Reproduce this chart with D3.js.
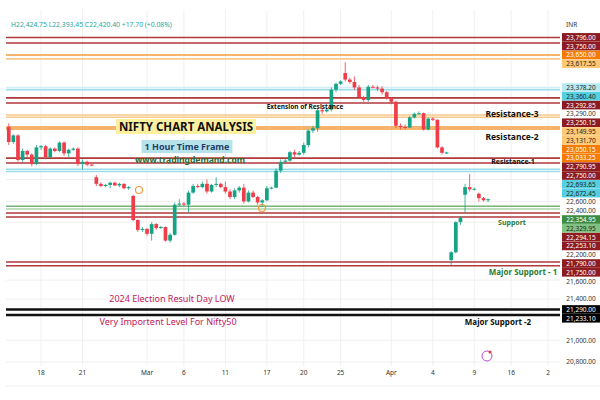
<!DOCTYPE html>
<html>
<head>
<meta charset="utf-8">
<script src="https://cdn.jsdelivr.net/npm/d3@7"></script>
<style>
  body { margin: 0; background: #fff; }
  svg { font-family: "Noto Sans", "DejaVu Sans", sans-serif; }
</style>
</head>
<body>
<div id="chart"></div>
<script>
// candles [open, high, low, close]
var candles = [
  [23050,23080,22900,22925],[22925,22990,22910,22980],[22980,22990,22760,22775],[22775,22870,22760,22850],
  [22850,22860,22790,22820],[22820,22830,22720,22740],[22740,22900,22730,22880],[22880,22900,22860,22890],
  [22890,22900,22780,22800],[22800,22880,22790,22870],[22870,22880,22840,22850],[22850,22930,22840,22920],
  [22920,22930,22810,22830],[22830,22870,22800,22860],[22860,22880,22850,22870],[22870,22880,22720,22740],
  [22740,22780,22690,22760],[22760,22770,22720,22735],[22735,22740,22720,22728],[22620,22640,22540,22560],
  [22560,22575,22530,22540],[22540,22560,22530,22550],[22550,22580,22520,22570],[22570,22580,22540,22545],
  [22545,22570,22530,22560],[22560,22565,22510,22520],[22520,22540,22505,22530],[22450,22460,22210,22222],
  [22222,22230,22100,22120],[22120,22150,22100,22130],[22130,22140,22060,22080],[22080,22200,22010,22180],
  [22180,22190,22120,22140],[22140,22160,22130,22150],[22150,22155,22000,22010],[22010,22090,21990,22070],
  [22070,22390,22060,22370],[22370,22420,22350,22380],[22380,22395,22360,22370],[22370,22500,22300,22480],
  [22480,22560,22470,22540],[22540,22560,22520,22530],[22530,22580,22520,22560],[22560,22600,22470,22490],
  [22490,22560,22480,22550],[22550,22620,22530,22560],[22560,22570,22520,22530],[22530,22580,22470,22490],
  [22490,22510,22420,22440],[22440,22520,22420,22500],[22500,22540,22480,22525],[22525,22560,22380,22400],
  [22400,22500,22390,22480],[22480,22500,22430,22440],[22440,22450,22370,22390],[22390,22420,22350,22410],
  [22410,22540,22400,22520],[22520,22535,22510,22525],[22525,22700,22520,22680],[22680,22780,22660,22760],
  [22760,22790,22740,22770],[22770,22850,22760,22840],[22840,22860,22800,22820],[22820,22850,22810,22835],
  [22835,22920,22820,22900],[22900,23030,22880,23020],[23020,23060,23000,23040],[23040,23200,23010,23190],
  [23190,23210,23160,23180],[23180,23205,23170,23195],[23195,23380,23180,23360],[23360,23420,23340,23410],
  [23410,23440,23400,23430],[23500,23590,23430,23445],[23445,23460,23410,23425],[23425,23470,23360,23380],
  [23380,23400,23290,23300],[23300,23310,23260,23275],[23275,23400,23260,23385],[23385,23400,23370,23380],
  [23380,23395,23350,23370],[23370,23390,23320,23340],[23340,23350,23280,23290],[23290,23300,23240,23260],
  [23260,23270,23040,23060],[23060,23080,23030,23050],[23050,23070,23030,23045],[23045,23140,23040,23130],
  [23130,23170,23120,23160],[23160,23180,23150,23165],[23165,23170,23020,23030],[23030,23130,23020,23120],
  [23120,23130,23100,23110],[23110,23115,22870,22880],[22880,22890,22820,22835],[22835,22845,22825,22838],
  [21810,21900,21760,21890],[21890,22210,21880,22200],[22200,22260,22170,22245],[22460,22560,22290,22530],
  [22530,22650,22490,22510],[22510,22525,22500,22515],[22470,22480,22400,22430],[22430,22440,22400,22410],
  [22410,22425,22393,22420]
];

var tickIdx = [7, 16, 30, 38, 47, 56, 64, 72, 83, 92, 101, 109, 117];
var tickLabels = ["18", "21", "Mar", "6", "11", "17", "20", "25", "Apr", "4", "9", "16", "2"];

// horizontal levels drawn on the chart
var levelPrices = [23796, 23750, 23650, 23617.55, 23378.20, 23360.40, 23292.85, 23250.15, 23149.95, 23131.70,
  23050.15, 23033.25, 22790.95, 22750, 22693.65, 22672.45, 22354.95, 22329.95, 22294.15, 22253.10,
  21790, 21750, 21290, 21233.10];
var levelKinds = ["red", "red", "orange", "lorange", "lblue", "cyan", "red", "red", "lorange", "lorange",
  "orange", "orange", "red", "red", "cyan", "cyan", "green", "lgreen", "red", "red",
  "red", "red", "black", "black"];
var axisTicks = [23290, 22600, 22400, 22200, 21600, 21400, 21000, 20800];

var width = 600, height = 400;
var plot = { left: 6, right: 560, top: 30, bottom: 366 };

var lineColor = { red: "#b0393b", orange: "#f39a3c", lorange: "#f7c98a", lblue: "#cfeef5", cyan: "#9bdcea",
  green: "#7bb27b", lgreen: "#a9d3a9", black: "#111" };
var boxColor = { red: "#8e1b1f", orange: "#f57c00", lorange: "#ffc875", lblue: "#b6e9f1", cyan: "#55d0e3",
  green: "#3d8b40", lgreen: "#7fc383", black: "#000" };
var boxText = { red: "#fff", orange: "#fff", lorange: "#222", lblue: "#222", cyan: "#222",
  green: "#fff", lgreen: "#222", black: "#fff" };

var svg = d3.select("#chart").append("svg").attr("width", width).attr("height", height);

var x = d3.scaleBand().domain(d3.range(120)).range([plot.left, plot.right]).padding(0.2);

var y = d3.scaleLinear()
  .domain([20800, 21233, 21790, 22294, 22750, 23250, 23750, 23900])
  .range([362, 315, 262, 213, 163, 103, 43, 25]);

// grid
svg.append("g").selectAll("line").data(tickIdx).join("line")
  .attr("x1", function(d) { return x(d) + x.bandwidth() / 2; })
  .attr("x2", function(d) { return x(d) + x.bandwidth() / 2; })
  .attr("y1", plot.top - 20).attr("y2", plot.bottom)
  .attr("stroke", "#f0f0f0");
svg.append("g").selectAll("line").data(axisTicks).join("line")
  .attr("x1", plot.left).attr("x2", plot.right)
  .attr("y1", function(d) { return y(d); }).attr("y2", function(d) { return y(d); })
  .attr("stroke", "#f0f0f0");

// levels
var levels = levelPrices.map(function(p, i) { return { price: p, kind: levelKinds[i] }; });
svg.append("g").selectAll("line").data(levels).join("line")
  .attr("x1", plot.left).attr("x2", plot.right)
  .attr("y1", function(d) { return y(d.price); }).attr("y2", function(d) { return y(d.price); })
  .attr("stroke", function(d) { return lineColor[d.kind]; })
  .attr("stroke-width", function(d) { return d.kind === "black" ? 2.5 : 1.6; });

// candles
var cg = svg.append("g");
candles.forEach(function(c, i) {
  var up = c[3] >= c[0];
  var col = up ? "#15a386" : "#ef3e4a";
  var cx = x(i) + x.bandwidth() / 2;
  cg.append("line").attr("x1", cx).attr("x2", cx)
    .attr("y1", y(c[1])).attr("y2", y(c[2])).attr("stroke", col).attr("stroke-width", 0.8);
  cg.append("rect").attr("x", x(i)).attr("width", x.bandwidth())
    .attr("y", y(Math.max(c[0], c[3])))
    .attr("height", Math.max(1, Math.abs(y(c[0]) - y(c[3]))))
    .attr("fill", col);
});

// right price axis labels (stacked to avoid overlap)
var labels = levels.map(function(d) { return { price: d.price, kind: d.kind, box: true }; })
  .concat(axisTicks.map(function(p) { return { price: p, kind: null, box: false }; }))
  .sort(function(a, b) { return b.price - a.price; });
var prev = -100;
labels.forEach(function(d) {
  d.ly = Math.max(y(d.price), prev + 8.8);
  prev = d.ly;
});
svg.append("rect").attr("x", plot.right).attr("y", 0).attr("width", 40).attr("height", height).attr("fill", "#fff");
var ag = svg.append("g");
labels.forEach(function(d) {
  if (d.box) {
    ag.append("rect").attr("x", plot.right + 2).attr("y", d.ly - 4.4).attr("width", 38).attr("height", 8.6)
      .attr("fill", boxColor[d.kind]);
  }
  ag.append("text").attr("x", plot.right + 21).attr("y", d.ly + 2.3)
    .attr("text-anchor", "middle").style("font-size", "6.5px")
    .attr("fill", d.box ? boxText[d.kind] : "#333")
    .text(d3.format(",.2f")(d.price));
});
svg.append("text").attr("x", 566).attr("y", 27).style("font-size", "6.5px").attr("fill", "#333").text("INR");

// bottom axis
var xa = svg.append("g");
tickIdx.forEach(function(t, i) {
  xa.append("text").attr("x", x(t) + x.bandwidth() / 2).attr("y", 375)
    .attr("text-anchor", "middle").style("font-size", "6.5px").attr("fill", "#333").text(tickLabels[i]);
});
svg.append("line").attr("x1", plot.left).attr("x2", width).attr("y1", 386).attr("y2", 386).attr("stroke", "#eee");

// OHLC header
svg.append("text").attr("x", 11).attr("y", 27).style("font-size", "6.8px").attr("fill", "#26a69a")
  .text("H22,424.75  L22,393.45  C22,420.40  +17.70 (+0.08%)");

// annotations
function note(tx, ty, str, size, color, weight, bg) {
  var t = svg.append("text").attr("x", tx).attr("y", ty).attr("text-anchor", "middle")
    .style("font-size", size + "px").style("font-weight", weight || "normal").attr("fill", color).text(str);
  if (bg) {
    var b = t.node().getBBox();
    svg.insert("rect", function() { return t.node(); })
      .attr("x", b.x - 3).attr("y", b.y).attr("width", b.width + 6).attr("height", b.height).attr("fill", bg);
  }
}
note(186, 131, "NIFTY CHART ANALYSIS", 11.5, "#111", "bold", "#fbf0a0");
note(187, 150, "1 Hour Time Frame", 9, "#1f3f6b", "bold", "#b7e2ea");
note(190, 163, "www.tradingdemand.com", 8.5, "#2c6a2f", "bold");
note(305, 109, "Extension of Resistance", 6.5, "#111", "bold");
note(512, 117, "Resistance-3", 8.5, "#111", "bold");
note(512, 140, "Resistance-2", 8.5, "#111", "bold");
note(513, 164, "Resistance-1", 7, "#111", "bold");
note(512, 225, "Support", 7, "#2e7d32", "bold");
note(523, 275, "Major Support - 1", 8, "#2e7d32", "bold");
note(498, 325, "Major Support -2", 8, "#111", "bold");
note(172, 302, "2024 Election Result Day LOW", 9, "#c2185b");
note(168, 325, "Very Importent Level For Nifty50", 9, "#c2185b");

// small icons
svg.append("circle").attr("cx", 139).attr("cy", 190).attr("r", 3.5).attr("fill", "none").attr("stroke", "#f39a3c").attr("stroke-width", 1.2);
svg.append("circle").attr("cx", 262).attr("cy", 208).attr("r", 3.5).attr("fill", "none").attr("stroke", "#f39a3c").attr("stroke-width", 1.2);
svg.append("circle").attr("cx", 487).attr("cy", 356).attr("r", 5).attr("fill", "none").attr("stroke", "#b44fd6").attr("stroke-width", 1);
svg.append("circle").attr("cx", 490).attr("cy", 352).attr("r", 1.5).attr("fill", "#e53935");
</script>
</body>
</html>
